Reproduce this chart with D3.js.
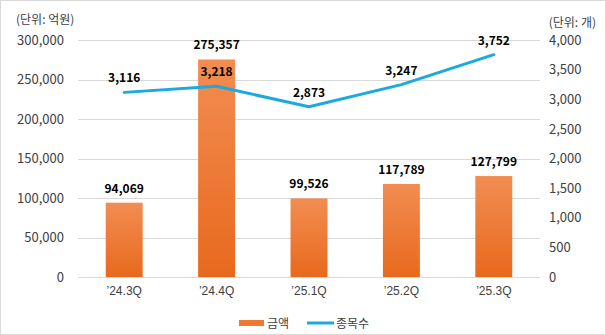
<!DOCTYPE html>
<html><head><meta charset="utf-8">
<script src="https://cdn.jsdelivr.net/npm/d3@7"></script>
<style>
html,body{margin:0;padding:0;background:#fff;}
svg{display:block;font-family:"Noto Sans CJK KR","Noto Sans",sans-serif;}
</style></head>
<body>
<svg id="c" width="606" height="335"></svg>
<script>
const categories = ["’24.3Q","’24.4Q","’25.1Q","’25.2Q","’25.3Q"];
const amountValues = [94069, 275357, 99526, 117789, 127799];
const countValues = [3116, 3218, 2873, 3247, 3752];
const leftTicks = [0, 50000, 100000, 150000, 200000, 250000, 300000];
const rightTicks = [0, 500, 1000, 1500, 2000, 2500, 3000, 3500, 4000];
const legendLabels = ["금액", "종목수"];
const unitLeft = "(단위: 억원)";
const unitRight = "(단위: 개)";

const W = 606, H = 335;
const m = {left: 78, right: 66, top: 40, bottom: 58};
const svg = d3.select("#c");
svg.append("rect").attr("x",0.5).attr("y",0.5).attr("width",W-1).attr("height",H-1)
  .attr("fill","#fff").attr("stroke","#d9d9d9");

const x = d3.scaleBand().domain(categories).range([m.left, W - m.right]).paddingInner(0.6).paddingOuter(0.3);
const yL = d3.scaleLinear().domain([0, 300000]).range([H - m.bottom, m.top]);
const yR = d3.scaleLinear().domain([0, 4000]).range([H - m.bottom, m.top]);
const fmt = d3.format(",");

const defs = svg.append("defs");
const g = defs.append("linearGradient").attr("id","barg").attr("x1",0).attr("y1",0).attr("x2",0).attr("y2",1);
g.append("stop").attr("offset","0%").attr("stop-color","#f28d52");
g.append("stop").attr("offset","100%").attr("stop-color","#e8691d");

// grid
svg.append("g").selectAll("line").data(leftTicks).join("line")
  .attr("x1", m.left).attr("x2", W - m.right)
  .attr("y1", d => Math.round(yL(d)) + 0.5).attr("y2", d => Math.round(yL(d)) + 0.5)
  .attr("stroke", "#d9d9d9").attr("stroke-width", 1);

// left axis
const axL = svg.append("g").attr("transform", `translate(${m.left},0)`)
  .call(d3.axisLeft(yL).tickValues(leftTicks).tickFormat(fmt).tickSize(0).tickPadding(14));
axL.select(".domain").remove();
axL.selectAll("text").attr("font-size", 13).attr("fill", "#404040").attr("font-family", "'Noto Sans CJK KR'");

// right axis
const axR = svg.append("g").attr("transform", `translate(${W - m.right},0)`)
  .call(d3.axisRight(yR).tickValues(rightTicks).tickFormat(fmt).tickSize(0).tickPadding(9));
axR.select(".domain").remove();
axR.selectAll("text").attr("font-size", 13).attr("fill", "#404040").attr("font-family", "'Noto Sans CJK KR'");

// x axis
const axX = svg.append("g").attr("transform", `translate(0,${H - m.bottom})`)
  .call(d3.axisBottom(x).tickSize(0).tickPadding(9));
axX.select(".domain").remove();
axX.selectAll("text").attr("font-size", 12).attr("fill", "#404040");

// bars
svg.append("g").selectAll("rect").data(amountValues).join("rect")
  .attr("x", (d,i) => x(categories[i])).attr("width", x.bandwidth())
  .attr("y", d => yL(d)).attr("height", d => yL(0) - yL(d))
  .attr("fill", "url(#barg)");

// bar labels
svg.append("g").selectAll("text").data(amountValues).join("text")
  .attr("x", (d,i) => x(categories[i]) + x.bandwidth()/2).attr("y", d => yL(d) - 10)
  .attr("text-anchor","middle").attr("font-size",12).attr("font-weight","bold").attr("fill","#000")
  .text(d => fmt(d));

// line
const line = d3.line().x((d,i) => x(categories[i]) + x.bandwidth()/2).y(d => yR(d));
svg.append("path").datum(countValues).attr("d", line).attr("fill","none")
  .attr("stroke","#1ba9e1").attr("stroke-width",3).attr("stroke-linejoin","round").attr("stroke-linecap","round");

svg.append("g").selectAll("text").data(countValues).join("text")
  .attr("x", (d,i) => x(categories[i]) + x.bandwidth()/2).attr("y", d => yR(d) - 10)
  .attr("text-anchor","middle").attr("font-size",12).attr("font-weight","bold").attr("fill","#000")
  .text(d => fmt(d));

// units
svg.append("text").attr("x", 16).attr("y", 24).attr("font-size", 12).attr("fill","#404040").text(unitLeft);
svg.append("text").attr("x", 596).attr("y", 27).attr("text-anchor","end").attr("font-size", 12).attr("fill","#404040").text(unitRight);

// legend
const lg = svg.append("g");
lg.append("rect").attr("x", 239).attr("y", 320).attr("width", 25).attr("height", 6).attr("fill", "#ec7a33");
lg.append("text").attr("x", 267).attr("y", 327.5).attr("font-size", 12).attr("fill","#404040").text(legendLabels[0]);
lg.append("line").attr("x1", 307).attr("x2", 334).attr("y1", 323).attr("y2", 323).attr("stroke","#1ba9e1").attr("stroke-width",3);
lg.append("text").attr("x", 336).attr("y", 327.5).attr("font-size", 12).attr("fill","#404040").text(legendLabels[1]);
</script>
</body></html>
